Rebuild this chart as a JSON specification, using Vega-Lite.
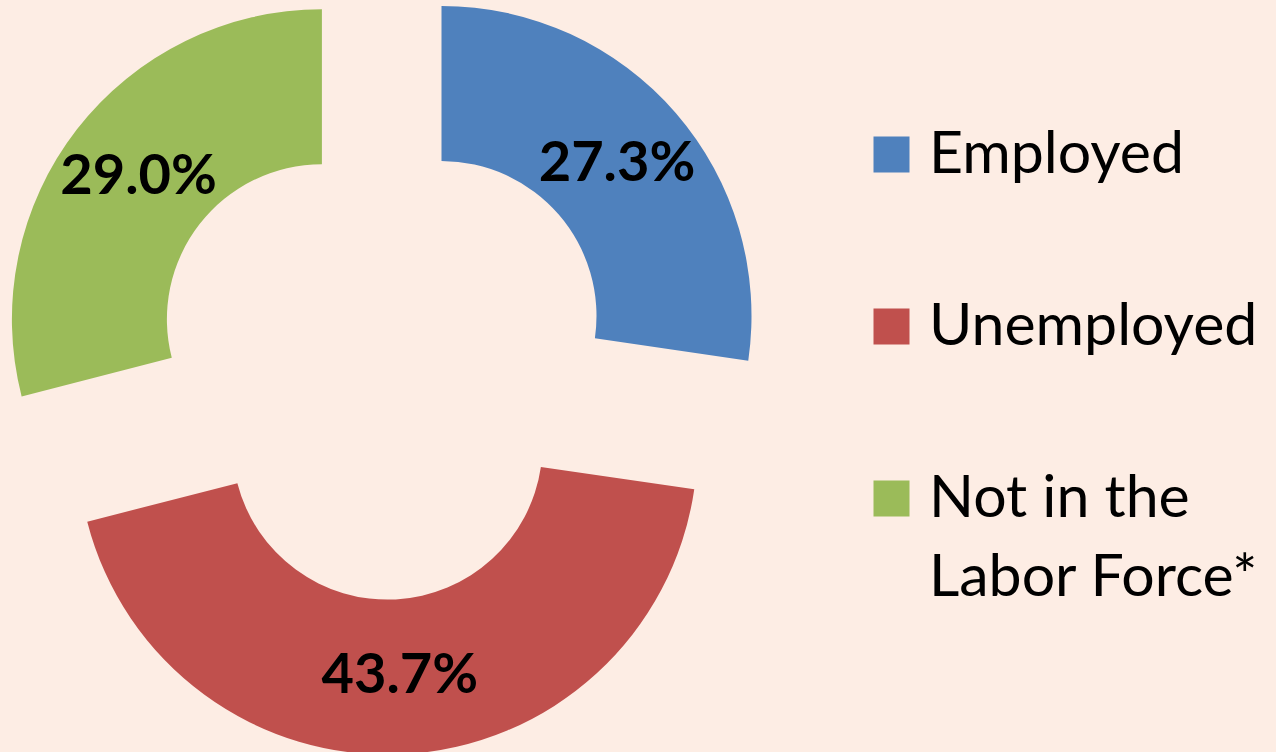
{
  "$schema": "https://vega.github.io/schema/vega-lite/v6.json",
  "width": 1276,
  "height": 752,
  "autosize": {"type": "none"},
  "padding": 0,
  "background": "#FDEDE4",
  "config": {"view": {"stroke": null}},
  "data": {
    "values": [
      {"status": "Employed", "rank": 1, "value": 27.3, "label": "27.3%"},
      {"status": "Unemployed", "rank": 2, "value": 43.7, "label": "43.7%"},
      {"status": "Not in the Labor Force*", "rank": 3, "value": 29.0, "label": "29.0%"}
    ]
  },
  "encoding": {
    "theta": {"field": "value", "type": "quantitative", "stack": true},
    "order": {"field": "rank", "type": "ordinal"},
    "color": {
      "field": "status",
      "type": "nominal",
      "scale": {
        "domain": ["Employed", "Unemployed", "Not in the Labor Force*"],
        "range": ["#4F81BD", "#C0504D", "#9BBB59"]
      },
      "legend": {
        "title": null,
        "orient": "none",
        "legendX": 862,
        "legendY": 125,
        "symbolType": "square",
        "symbolSize": 1296,
        "symbolStrokeWidth": 0,
        "symbolOpacity": 1,
        "labelFont": "Lato",
        "labelFontSize": 59,
        "labelColor": "#000000",
        "labelOffset": 8,
        "labelLimit": 500,
        "rowPadding": 112,
        "labelExpr": "datum.label === 'Not in the Labor Force*' ? ['Not in the', 'Labor Force*'] : datum.label",
        "encode": {"labels": {"update": {"lineHeight": {"value": 79}}}}
      }
    }
  },
  "layer": [
    {
      "mark": {"type": "arc", "radius": 310, "radius2": 155, "xOffset": -196.5, "yOffset": -60},
      "encoding": {"opacity": {"condition": {"test": "datum.status === 'Employed'", "value": 1}, "value": 0}}
    },
    {
      "mark": {"type": "arc", "radius": 310, "radius2": 155, "xOffset": -250.5, "yOffset": 68.6},
      "encoding": {"opacity": {"condition": {"test": "datum.status === 'Unemployed'", "value": 1}, "value": 0}}
    },
    {
      "mark": {"type": "arc", "radius": 310, "radius2": 155, "xOffset": -316.1, "yOffset": -56.7},
      "encoding": {"opacity": {"condition": {"test": "datum.status === 'Not in the Labor Force*'", "value": 1}, "value": 0}}
    },
    {
      "mark": {"type": "text", "radius": 232, "dx": -196.5, "dy": -60, "font": "Lato", "fontSize": 56, "fontWeight": "bold"},
      "encoding": {
        "color": {"value": "#000000"},
        "text": {"condition": {"test": "datum.status === 'Employed'", "field": "label"}, "value": ""}
      }
    },
    {
      "mark": {"type": "text", "radius": 232, "dx": -250.5, "dy": 68.6, "font": "Lato", "fontSize": 56, "fontWeight": "bold"},
      "encoding": {
        "color": {"value": "#000000"},
        "text": {"condition": {"test": "datum.status === 'Unemployed'", "field": "label"}, "value": ""}
      }
    },
    {
      "mark": {"type": "text", "radius": 232, "dx": -316.1, "dy": -56.7, "font": "Lato", "fontSize": 56, "fontWeight": "bold"},
      "encoding": {
        "color": {"value": "#000000"},
        "text": {"condition": {"test": "datum.status === 'Not in the Labor Force*'", "field": "label"}, "value": ""}
      }
    }
  ]
}
